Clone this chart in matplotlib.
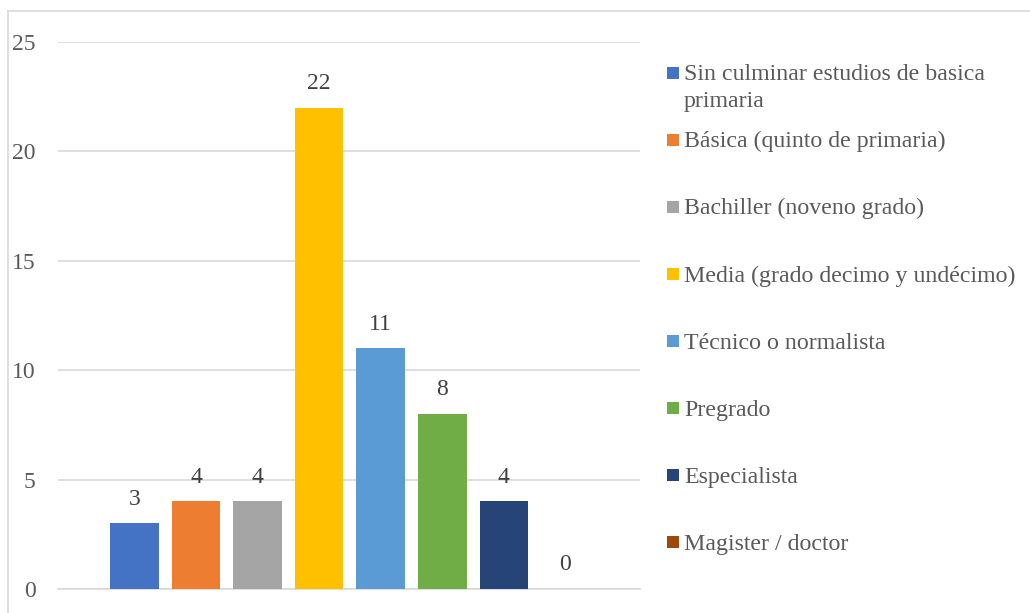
import matplotlib
matplotlib.use("Agg")
import matplotlib.pyplot as plt
from matplotlib.patches import Rectangle
from matplotlib.lines import Line2D

categories = [
    "Sin culminar estudios de basica\nprimaria",
    "Básica (quinto de primaria)",
    "Bachiller (noveno grado)",
    "Media (grado decimo y undécimo)",
    "Técnico o normalista",
    "Pregrado",
    "Especialista",
    "Magister / doctor",
]
values = [3, 4, 4, 22, 11, 8, 4, 0]
colors = ["#4472C4", "#ED7D31", "#A5A5A5", "#FFC000",
          "#5B9BD5", "#70AD47", "#264478", "#9E480E"]
yticks = [0, 5, 10, 15, 20, 25]

plt.rcParams['font.family'] = ['Liberation Serif', 'DejaVu Serif']

W, H = 1030, 613
fig = plt.figure(figsize=(W / 100, H / 100), dpi=100)

def fx(px):
    return px / W

def fy(py):
    return 1 - py / H

# outer chart border (left and top visible)
fig.add_artist(Line2D([fx(8), fx(8)], [fy(11), fy(620)], transform=fig.transFigure,
                      color="#D9D9D9", lw=1.2))
fig.add_artist(Line2D([fx(8), fx(1035)], [fy(11), fy(11)], transform=fig.transFigure,
                      color="#D9D9D9", lw=1.2))

ax = fig.add_axes([fx(58), fy(589), fx(640) - fx(58), fy(42) - fy(589)])
x = list(range(len(values)))
bars = ax.bar(x, values, width=0.79, color=colors, zorder=3)
ax.set_xlim(-1.24, 8.21)
ax.set_ylim(0, 25)
ax.set_yticks(yticks)
ax.set_yticklabels([str(t) for t in yticks], fontsize=17, color="#595959")
ax.tick_params(axis='y', length=0, pad=16)
ax.set_xticks([])
for s in ["top", "right", "left"]:
    ax.spines[s].set_visible(False)
ax.spines["bottom"].set_color("#D9D9D9")
ax.spines["bottom"].set_linewidth(1.2)
ax.grid(axis='y', color="#D9D9D9", lw=1.2, zorder=0)
ax.set_axisbelow(True)

for xi, v in zip(x, values):
    ax.annotate(str(v), (xi, v), xytext=(0, 17.5), textcoords="offset points",
                ha="center", va="center", fontsize=17, color="#404040")

# legend
leg_y0 = 72.5
leg_step = 67.14
for i, (lab, c) in enumerate(zip(categories, colors)):
    cy = leg_y0 + i * leg_step
    fig.add_artist(Rectangle((fx(667), fy(cy + 6)), fx(679) - fx(667), fy(cy - 6) - fy(cy + 6),
                             transform=fig.transFigure, color=c, lw=0))
    for k, line in enumerate(lab.split("\n")):
        fig.text(fx(684), fy(cy + 7.6 + k * 27), line, fontsize=17.2, color="#595959",
                 ha="left", va="baseline")

fig.savefig("out.png", dpi=100)
